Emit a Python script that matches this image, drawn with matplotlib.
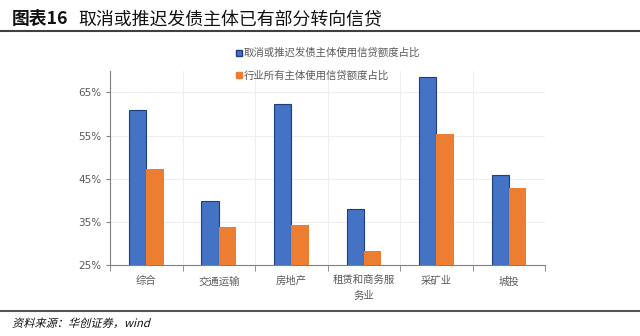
import numpy as np
import matplotlib.pyplot as plt
from matplotlib.lines import Line2D
from matplotlib.textpath import TextPath
from matplotlib.patches import PathPatch
from matplotlib.font_manager import FontProperties
from matplotlib.transforms import Affine2D, IdentityTransform

plt.rcParams['font.family'] = ['Noto Sans CJK SC', 'DejaVu Sans']

categories = ['综合', '交通运输', '房地产', '租赁和商务服\n务业', '采矿业', '城投']
cancelled = [61.0, 39.8, 62.4, 38.1, 68.5, 45.8]   # 取消或推迟发债主体使用信贷额度占比
industry = [47.2, 33.8, 34.4, 28.2, 55.3, 42.9]    # 行业所有主体使用信贷额度占比
yticks = [25, 35, 45, 55, 65]

blue = '#4472C4'
orange = '#ED7D31'
gray = '#595959'

fig = plt.figure(figsize=(6.4, 3.36), dpi=100)
ax = fig.add_axes([0.172, 0.211, 0.680, 0.578])

x = np.arange(len(categories))
w = 0.24
ax.bar(x - w / 2, cancelled, w, color=blue, edgecolor='#1F3F7A', linewidth=0.8, zorder=3)
ax.bar(x + w / 2, industry, w, color=orange, linewidth=0, zorder=3)

ax.set_ylim(25, 70)
ax.set_xlim(-0.5, len(categories) - 0.5)
ax.set_yticks(yticks)
ax.set_yticklabels([f'{t}%' for t in yticks], fontsize=7.5, color=gray, family='DejaVu Sans')
ax.set_xticks(x)
ax.set_xticklabels(categories, fontsize=7.5, color=gray, linespacing=1.6)
ax.tick_params(axis='x', length=0, pad=8)
ax.tick_params(axis='y', length=3, color='#808080', pad=3)

# category separators drawn as minor ticks + faint vertical grid
ax.set_xticks(np.arange(-0.5, len(categories)), minor=True)
ax.tick_params(axis='x', which='minor', length=4, color='#808080')
ax.grid(axis='x', which='minor', color='#EEEEEE', linewidth=0.8, zorder=0)
ax.grid(axis='y', which='major', color='#EEEEEE', linewidth=0.8, zorder=0)

for side in ['top', 'right']:
    ax.spines[side].set_visible(False)
ax.spines['left'].set_color('#808080')
ax.spines['bottom'].set_color('#808080')

handles = [Line2D([], [], marker='s', linestyle='none', markersize=4.5, color=blue, markeredgecolor='#1F3F7A'),
           Line2D([], [], marker='s', linestyle='none', markersize=4.5, color=orange)]
fig.legend(handles, ['取消或推迟发债主体使用信贷额度占比', '行业所有主体使用信贷额度占比'],
           loc='upper left', bbox_to_anchor=(0.352, 0.885), frameon=False, fontsize=7.5,
           labelcolor=gray, handletextpad=0.1, handlelength=0.8, labelspacing=1.2)

# header and footer
fig.text(0.019, 1 - 19 / 336, '图表16', fontsize=12.8, fontweight='bold', va='center', color='#111111')
fig.text(0.122, 1 - 19 / 336, '取消或推迟发债主体已有部分转向信贷', fontsize=12.9, va='center', color='#111111')
fig.add_artist(Line2D([0, 1], [1 - 31 / 336, 1 - 31 / 336], color='#404040', linewidth=1.5))
fig.add_artist(Line2D([0, 1], [1 - 311 / 336, 1 - 311 / 336], color='#555555', linewidth=1.5))

# slanted source line (CJK font has no italic face, so skew the outline)
src = TextPath((0, 0), '资料来源：华创证券，wind', size=11.2, prop=FontProperties(family='Noto Sans CJK SC'))
src_tf = Affine2D().skew_deg(14, 0).translate(12, 336 - 327)
fig.add_artist(PathPatch(src, transform=src_tf + IdentityTransform(), color='#111111', linewidth=0))

fig.savefig('out.png', dpi=100, facecolor='white')
